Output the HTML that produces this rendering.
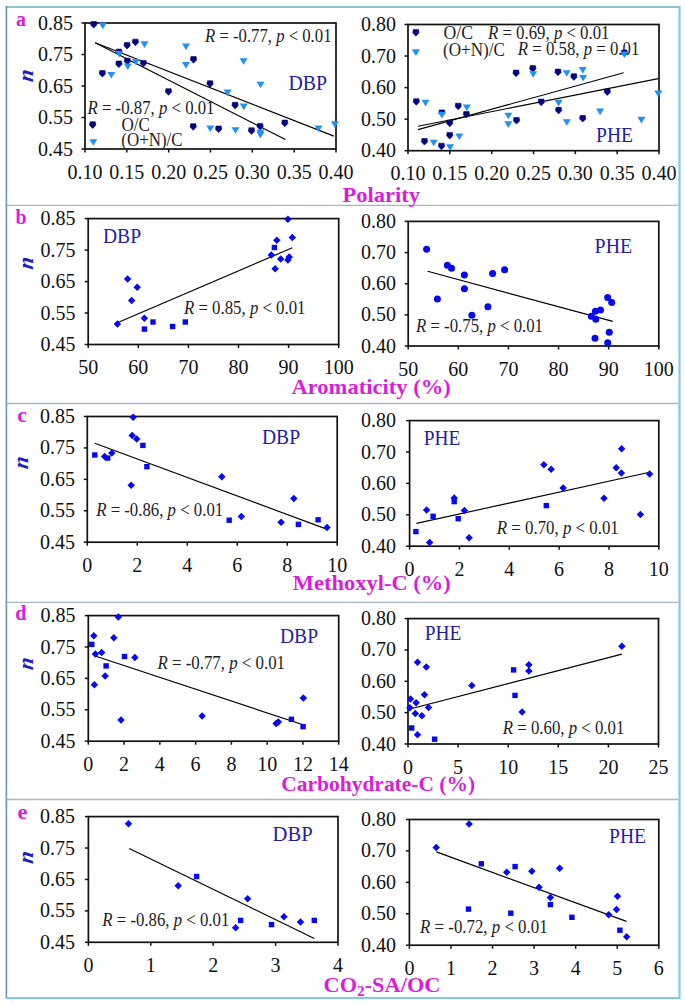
<!DOCTYPE html>
<html><head><meta charset="utf-8"><title>Figure</title>
<style>
html,body{margin:0;padding:0;background:#fff;}
body{width:685px;height:1004px;overflow:hidden;}
svg{display:block;}
text{font-family:"Liberation Serif",serif;}
.tk{font-size:20px;fill:#111;}
.an{font-size:18px;fill:#222;}
.lg{font-size:18px;fill:#222;}
.lb{font-size:20.5px;fill:#2020a8;}
.tt{font-size:22px;font-weight:bold;fill:#d81ed8;}
.rl{font-size:20px;font-weight:bold;fill:#d81ed8;}
.nl{font-size:22px;font-weight:bold;font-style:italic;fill:#1c1cc8;}
</style></head>
<body><svg width="685" height="1004" viewBox="0 0 685 1004">
<rect width="685" height="1004" fill="#fff"/>
<line x1="6" y1="7" x2="679" y2="7" stroke="#8fc3d3" stroke-width="2"/>
<line x1="6.4" y1="6" x2="6.4" y2="999" stroke="#6598a8" stroke-width="1.6"/>
<line x1="679.5" y1="6" x2="679.5" y2="999" stroke="#84c9e6" stroke-width="2.2"/>
<line x1="6" y1="998" x2="680" y2="998" stroke="#84c9e6" stroke-width="2.2"/>
<line x1="7" y1="205.3" x2="678.5" y2="205.3" stroke="#a9b6c6" stroke-width="1.3"/>
<line x1="7" y1="403.5" x2="678.5" y2="403.5" stroke="#a9b6c6" stroke-width="1.3"/>
<line x1="7" y1="602.3" x2="678.5" y2="602.3" stroke="#a9b6c6" stroke-width="1.3"/>
<line x1="7" y1="799.5" x2="678.5" y2="799.5" stroke="#a9b6c6" stroke-width="1.3"/>
<rect x="85" y="23" width="251" height="126" fill="none" stroke="#111" stroke-width="1.7"/>
<line x1="81.5" y1="23" x2="85" y2="23" stroke="#111" stroke-width="1.5"/>
<text x="73.1" y="29.5" class="tk" text-anchor="end">0.85</text>
<line x1="81.5" y1="54.5" x2="85" y2="54.5" stroke="#111" stroke-width="1.5"/>
<text x="73.1" y="61" class="tk" text-anchor="end">0.75</text>
<line x1="81.5" y1="86" x2="85" y2="86" stroke="#111" stroke-width="1.5"/>
<text x="73.1" y="92.5" class="tk" text-anchor="end">0.65</text>
<line x1="81.5" y1="117.5" x2="85" y2="117.5" stroke="#111" stroke-width="1.5"/>
<text x="73.1" y="124" class="tk" text-anchor="end">0.55</text>
<line x1="81.5" y1="149" x2="85" y2="149" stroke="#111" stroke-width="1.5"/>
<text x="73.1" y="155.5" class="tk" text-anchor="end">0.45</text>
<line x1="85" y1="149" x2="85" y2="152.5" stroke="#111" stroke-width="1.5"/>
<text x="85" y="178.5" class="tk" text-anchor="middle">0.10</text>
<line x1="126.83" y1="149" x2="126.83" y2="152.5" stroke="#111" stroke-width="1.5"/>
<text x="126.83" y="178.5" class="tk" text-anchor="middle">0.15</text>
<line x1="168.67" y1="149" x2="168.67" y2="152.5" stroke="#111" stroke-width="1.5"/>
<text x="168.67" y="178.5" class="tk" text-anchor="middle">0.20</text>
<line x1="210.5" y1="149" x2="210.5" y2="152.5" stroke="#111" stroke-width="1.5"/>
<text x="210.5" y="178.5" class="tk" text-anchor="middle">0.25</text>
<line x1="252.33" y1="149" x2="252.33" y2="152.5" stroke="#111" stroke-width="1.5"/>
<text x="252.33" y="178.5" class="tk" text-anchor="middle">0.30</text>
<line x1="294.17" y1="149" x2="294.17" y2="152.5" stroke="#111" stroke-width="1.5"/>
<text x="294.17" y="178.5" class="tk" text-anchor="middle">0.35</text>
<line x1="336" y1="149" x2="336" y2="152.5" stroke="#111" stroke-width="1.5"/>
<text x="336" y="178.5" class="tk" text-anchor="middle">0.40</text>
<rect x="408" y="24.5" width="251" height="126.2" fill="none" stroke="#111" stroke-width="1.7"/>
<line x1="404.5" y1="24.5" x2="408" y2="24.5" stroke="#111" stroke-width="1.5"/>
<text x="396.1" y="31" class="tk" text-anchor="end">0.80</text>
<line x1="404.5" y1="56.05" x2="408" y2="56.05" stroke="#111" stroke-width="1.5"/>
<text x="396.1" y="62.55" class="tk" text-anchor="end">0.70</text>
<line x1="404.5" y1="87.6" x2="408" y2="87.6" stroke="#111" stroke-width="1.5"/>
<text x="396.1" y="94.1" class="tk" text-anchor="end">0.60</text>
<line x1="404.5" y1="119.15" x2="408" y2="119.15" stroke="#111" stroke-width="1.5"/>
<text x="396.1" y="125.65" class="tk" text-anchor="end">0.50</text>
<line x1="404.5" y1="150.7" x2="408" y2="150.7" stroke="#111" stroke-width="1.5"/>
<text x="396.1" y="157.2" class="tk" text-anchor="end">0.40</text>
<line x1="408" y1="150.7" x2="408" y2="154.2" stroke="#111" stroke-width="1.5"/>
<text x="408" y="180.2" class="tk" text-anchor="middle">0.10</text>
<line x1="449.83" y1="150.7" x2="449.83" y2="154.2" stroke="#111" stroke-width="1.5"/>
<text x="449.83" y="180.2" class="tk" text-anchor="middle">0.15</text>
<line x1="491.67" y1="150.7" x2="491.67" y2="154.2" stroke="#111" stroke-width="1.5"/>
<text x="491.67" y="180.2" class="tk" text-anchor="middle">0.20</text>
<line x1="533.5" y1="150.7" x2="533.5" y2="154.2" stroke="#111" stroke-width="1.5"/>
<text x="533.5" y="180.2" class="tk" text-anchor="middle">0.25</text>
<line x1="575.33" y1="150.7" x2="575.33" y2="154.2" stroke="#111" stroke-width="1.5"/>
<text x="575.33" y="180.2" class="tk" text-anchor="middle">0.30</text>
<line x1="617.17" y1="150.7" x2="617.17" y2="154.2" stroke="#111" stroke-width="1.5"/>
<text x="617.17" y="180.2" class="tk" text-anchor="middle">0.35</text>
<line x1="659" y1="150.7" x2="659" y2="154.2" stroke="#111" stroke-width="1.5"/>
<text x="659" y="180.2" class="tk" text-anchor="middle">0.40</text>
<rect x="88.2" y="218.6" width="250.5" height="125.9" fill="none" stroke="#111" stroke-width="1.7"/>
<line x1="84.7" y1="218.6" x2="88.2" y2="218.6" stroke="#111" stroke-width="1.5"/>
<text x="75.6" y="225.1" class="tk" text-anchor="end">0.85</text>
<line x1="84.7" y1="250.07" x2="88.2" y2="250.07" stroke="#111" stroke-width="1.5"/>
<text x="75.6" y="256.57" class="tk" text-anchor="end">0.75</text>
<line x1="84.7" y1="281.55" x2="88.2" y2="281.55" stroke="#111" stroke-width="1.5"/>
<text x="75.6" y="288.05" class="tk" text-anchor="end">0.65</text>
<line x1="84.7" y1="313.02" x2="88.2" y2="313.02" stroke="#111" stroke-width="1.5"/>
<text x="75.6" y="319.52" class="tk" text-anchor="end">0.55</text>
<line x1="84.7" y1="344.5" x2="88.2" y2="344.5" stroke="#111" stroke-width="1.5"/>
<text x="75.6" y="351" class="tk" text-anchor="end">0.45</text>
<line x1="88.2" y1="344.5" x2="88.2" y2="348" stroke="#111" stroke-width="1.5"/>
<text x="88.2" y="374" class="tk" text-anchor="middle">50</text>
<line x1="138.3" y1="344.5" x2="138.3" y2="348" stroke="#111" stroke-width="1.5"/>
<text x="138.3" y="374" class="tk" text-anchor="middle">60</text>
<line x1="188.4" y1="344.5" x2="188.4" y2="348" stroke="#111" stroke-width="1.5"/>
<text x="188.4" y="374" class="tk" text-anchor="middle">70</text>
<line x1="238.5" y1="344.5" x2="238.5" y2="348" stroke="#111" stroke-width="1.5"/>
<text x="238.5" y="374" class="tk" text-anchor="middle">80</text>
<line x1="288.6" y1="344.5" x2="288.6" y2="348" stroke="#111" stroke-width="1.5"/>
<text x="288.6" y="374" class="tk" text-anchor="middle">90</text>
<line x1="338.7" y1="344.5" x2="338.7" y2="348" stroke="#111" stroke-width="1.5"/>
<text x="338.7" y="374" class="tk" text-anchor="middle">100</text>
<rect x="408.2" y="221.4" width="250.6" height="124.6" fill="none" stroke="#111" stroke-width="1.7"/>
<line x1="404.7" y1="221.4" x2="408.2" y2="221.4" stroke="#111" stroke-width="1.5"/>
<text x="396.1" y="227.9" class="tk" text-anchor="end">0.80</text>
<line x1="404.7" y1="252.55" x2="408.2" y2="252.55" stroke="#111" stroke-width="1.5"/>
<text x="396.1" y="259.05" class="tk" text-anchor="end">0.70</text>
<line x1="404.7" y1="283.7" x2="408.2" y2="283.7" stroke="#111" stroke-width="1.5"/>
<text x="396.1" y="290.2" class="tk" text-anchor="end">0.60</text>
<line x1="404.7" y1="314.85" x2="408.2" y2="314.85" stroke="#111" stroke-width="1.5"/>
<text x="396.1" y="321.35" class="tk" text-anchor="end">0.50</text>
<line x1="404.7" y1="346" x2="408.2" y2="346" stroke="#111" stroke-width="1.5"/>
<text x="396.1" y="352.5" class="tk" text-anchor="end">0.40</text>
<line x1="408.2" y1="346" x2="408.2" y2="349.5" stroke="#111" stroke-width="1.5"/>
<text x="408.2" y="375.5" class="tk" text-anchor="middle">50</text>
<line x1="458.32" y1="346" x2="458.32" y2="349.5" stroke="#111" stroke-width="1.5"/>
<text x="458.32" y="375.5" class="tk" text-anchor="middle">60</text>
<line x1="508.44" y1="346" x2="508.44" y2="349.5" stroke="#111" stroke-width="1.5"/>
<text x="508.44" y="375.5" class="tk" text-anchor="middle">70</text>
<line x1="558.56" y1="346" x2="558.56" y2="349.5" stroke="#111" stroke-width="1.5"/>
<text x="558.56" y="375.5" class="tk" text-anchor="middle">80</text>
<line x1="608.68" y1="346" x2="608.68" y2="349.5" stroke="#111" stroke-width="1.5"/>
<text x="608.68" y="375.5" class="tk" text-anchor="middle">90</text>
<line x1="658.8" y1="346" x2="658.8" y2="349.5" stroke="#111" stroke-width="1.5"/>
<text x="658.8" y="375.5" class="tk" text-anchor="middle">100</text>
<rect x="87.3" y="416.5" width="249.9" height="125.7" fill="none" stroke="#111" stroke-width="1.7"/>
<line x1="83.8" y1="416.5" x2="87.3" y2="416.5" stroke="#111" stroke-width="1.5"/>
<text x="75.1" y="423" class="tk" text-anchor="end">0.85</text>
<line x1="83.8" y1="447.93" x2="87.3" y2="447.93" stroke="#111" stroke-width="1.5"/>
<text x="75.1" y="454.43" class="tk" text-anchor="end">0.75</text>
<line x1="83.8" y1="479.35" x2="87.3" y2="479.35" stroke="#111" stroke-width="1.5"/>
<text x="75.1" y="485.85" class="tk" text-anchor="end">0.65</text>
<line x1="83.8" y1="510.78" x2="87.3" y2="510.78" stroke="#111" stroke-width="1.5"/>
<text x="75.1" y="517.28" class="tk" text-anchor="end">0.55</text>
<line x1="83.8" y1="542.2" x2="87.3" y2="542.2" stroke="#111" stroke-width="1.5"/>
<text x="75.1" y="548.7" class="tk" text-anchor="end">0.45</text>
<line x1="87.3" y1="542.2" x2="87.3" y2="545.7" stroke="#111" stroke-width="1.5"/>
<text x="87.3" y="571.7" class="tk" text-anchor="middle">0</text>
<line x1="137.28" y1="542.2" x2="137.28" y2="545.7" stroke="#111" stroke-width="1.5"/>
<text x="137.28" y="571.7" class="tk" text-anchor="middle">2</text>
<line x1="187.26" y1="542.2" x2="187.26" y2="545.7" stroke="#111" stroke-width="1.5"/>
<text x="187.26" y="571.7" class="tk" text-anchor="middle">4</text>
<line x1="237.24" y1="542.2" x2="237.24" y2="545.7" stroke="#111" stroke-width="1.5"/>
<text x="237.24" y="571.7" class="tk" text-anchor="middle">6</text>
<line x1="287.22" y1="542.2" x2="287.22" y2="545.7" stroke="#111" stroke-width="1.5"/>
<text x="287.22" y="571.7" class="tk" text-anchor="middle">8</text>
<line x1="337.2" y1="542.2" x2="337.2" y2="545.7" stroke="#111" stroke-width="1.5"/>
<text x="337.2" y="571.7" class="tk" text-anchor="middle">10</text>
<rect x="409.6" y="420.6" width="249.2" height="125.6" fill="none" stroke="#111" stroke-width="1.7"/>
<line x1="406.1" y1="420.6" x2="409.6" y2="420.6" stroke="#111" stroke-width="1.5"/>
<text x="396.1" y="427.1" class="tk" text-anchor="end">0.80</text>
<line x1="406.1" y1="452" x2="409.6" y2="452" stroke="#111" stroke-width="1.5"/>
<text x="396.1" y="458.5" class="tk" text-anchor="end">0.70</text>
<line x1="406.1" y1="483.4" x2="409.6" y2="483.4" stroke="#111" stroke-width="1.5"/>
<text x="396.1" y="489.9" class="tk" text-anchor="end">0.60</text>
<line x1="406.1" y1="514.8" x2="409.6" y2="514.8" stroke="#111" stroke-width="1.5"/>
<text x="396.1" y="521.3" class="tk" text-anchor="end">0.50</text>
<line x1="406.1" y1="546.2" x2="409.6" y2="546.2" stroke="#111" stroke-width="1.5"/>
<text x="396.1" y="552.7" class="tk" text-anchor="end">0.40</text>
<line x1="409.6" y1="546.2" x2="409.6" y2="549.7" stroke="#111" stroke-width="1.5"/>
<text x="409.6" y="575.7" class="tk" text-anchor="middle">0</text>
<line x1="459.44" y1="546.2" x2="459.44" y2="549.7" stroke="#111" stroke-width="1.5"/>
<text x="459.44" y="575.7" class="tk" text-anchor="middle">2</text>
<line x1="509.28" y1="546.2" x2="509.28" y2="549.7" stroke="#111" stroke-width="1.5"/>
<text x="509.28" y="575.7" class="tk" text-anchor="middle">4</text>
<line x1="559.12" y1="546.2" x2="559.12" y2="549.7" stroke="#111" stroke-width="1.5"/>
<text x="559.12" y="575.7" class="tk" text-anchor="middle">6</text>
<line x1="608.96" y1="546.2" x2="608.96" y2="549.7" stroke="#111" stroke-width="1.5"/>
<text x="608.96" y="575.7" class="tk" text-anchor="middle">8</text>
<line x1="658.8" y1="546.2" x2="658.8" y2="549.7" stroke="#111" stroke-width="1.5"/>
<text x="658.8" y="575.7" class="tk" text-anchor="middle">10</text>
<rect x="88.3" y="615.6" width="250.4" height="125.6" fill="none" stroke="#111" stroke-width="1.7"/>
<line x1="84.8" y1="615.6" x2="88.3" y2="615.6" stroke="#111" stroke-width="1.5"/>
<text x="75.6" y="622.1" class="tk" text-anchor="end">0.85</text>
<line x1="84.8" y1="647" x2="88.3" y2="647" stroke="#111" stroke-width="1.5"/>
<text x="75.6" y="653.5" class="tk" text-anchor="end">0.75</text>
<line x1="84.8" y1="678.4" x2="88.3" y2="678.4" stroke="#111" stroke-width="1.5"/>
<text x="75.6" y="684.9" class="tk" text-anchor="end">0.65</text>
<line x1="84.8" y1="709.8" x2="88.3" y2="709.8" stroke="#111" stroke-width="1.5"/>
<text x="75.6" y="716.3" class="tk" text-anchor="end">0.55</text>
<line x1="84.8" y1="741.2" x2="88.3" y2="741.2" stroke="#111" stroke-width="1.5"/>
<text x="75.6" y="747.7" class="tk" text-anchor="end">0.45</text>
<line x1="88.3" y1="741.2" x2="88.3" y2="744.7" stroke="#111" stroke-width="1.5"/>
<text x="88.3" y="770.7" class="tk" text-anchor="middle">0</text>
<line x1="124.07" y1="741.2" x2="124.07" y2="744.7" stroke="#111" stroke-width="1.5"/>
<text x="124.07" y="770.7" class="tk" text-anchor="middle">2</text>
<line x1="159.84" y1="741.2" x2="159.84" y2="744.7" stroke="#111" stroke-width="1.5"/>
<text x="159.84" y="770.7" class="tk" text-anchor="middle">4</text>
<line x1="195.61" y1="741.2" x2="195.61" y2="744.7" stroke="#111" stroke-width="1.5"/>
<text x="195.61" y="770.7" class="tk" text-anchor="middle">6</text>
<line x1="231.39" y1="741.2" x2="231.39" y2="744.7" stroke="#111" stroke-width="1.5"/>
<text x="231.39" y="770.7" class="tk" text-anchor="middle">8</text>
<line x1="267.16" y1="741.2" x2="267.16" y2="744.7" stroke="#111" stroke-width="1.5"/>
<text x="267.16" y="770.7" class="tk" text-anchor="middle">10</text>
<line x1="302.93" y1="741.2" x2="302.93" y2="744.7" stroke="#111" stroke-width="1.5"/>
<text x="302.93" y="770.7" class="tk" text-anchor="middle">12</text>
<line x1="338.7" y1="741.2" x2="338.7" y2="744.7" stroke="#111" stroke-width="1.5"/>
<text x="338.7" y="770.7" class="tk" text-anchor="middle">14</text>
<rect x="408" y="618.6" width="250.5" height="125.4" fill="none" stroke="#111" stroke-width="1.7"/>
<line x1="404.5" y1="618.6" x2="408" y2="618.6" stroke="#111" stroke-width="1.5"/>
<text x="396.1" y="625.1" class="tk" text-anchor="end">0.80</text>
<line x1="404.5" y1="649.95" x2="408" y2="649.95" stroke="#111" stroke-width="1.5"/>
<text x="396.1" y="656.45" class="tk" text-anchor="end">0.70</text>
<line x1="404.5" y1="681.3" x2="408" y2="681.3" stroke="#111" stroke-width="1.5"/>
<text x="396.1" y="687.8" class="tk" text-anchor="end">0.60</text>
<line x1="404.5" y1="712.65" x2="408" y2="712.65" stroke="#111" stroke-width="1.5"/>
<text x="396.1" y="719.15" class="tk" text-anchor="end">0.50</text>
<line x1="404.5" y1="744" x2="408" y2="744" stroke="#111" stroke-width="1.5"/>
<text x="396.1" y="750.5" class="tk" text-anchor="end">0.40</text>
<line x1="408" y1="744" x2="408" y2="747.5" stroke="#111" stroke-width="1.5"/>
<text x="408" y="773.5" class="tk" text-anchor="middle">0</text>
<line x1="458.1" y1="744" x2="458.1" y2="747.5" stroke="#111" stroke-width="1.5"/>
<text x="458.1" y="773.5" class="tk" text-anchor="middle">5</text>
<line x1="508.2" y1="744" x2="508.2" y2="747.5" stroke="#111" stroke-width="1.5"/>
<text x="508.2" y="773.5" class="tk" text-anchor="middle">10</text>
<line x1="558.3" y1="744" x2="558.3" y2="747.5" stroke="#111" stroke-width="1.5"/>
<text x="558.3" y="773.5" class="tk" text-anchor="middle">15</text>
<line x1="608.4" y1="744" x2="608.4" y2="747.5" stroke="#111" stroke-width="1.5"/>
<text x="608.4" y="773.5" class="tk" text-anchor="middle">20</text>
<line x1="658.5" y1="744" x2="658.5" y2="747.5" stroke="#111" stroke-width="1.5"/>
<text x="658.5" y="773.5" class="tk" text-anchor="middle">25</text>
<rect x="88.4" y="816.6" width="249.6" height="125.7" fill="none" stroke="#111" stroke-width="1.7"/>
<line x1="84.9" y1="816.6" x2="88.4" y2="816.6" stroke="#111" stroke-width="1.5"/>
<text x="75.1" y="823.1" class="tk" text-anchor="end">0.85</text>
<line x1="84.9" y1="848.02" x2="88.4" y2="848.02" stroke="#111" stroke-width="1.5"/>
<text x="75.1" y="854.52" class="tk" text-anchor="end">0.75</text>
<line x1="84.9" y1="879.45" x2="88.4" y2="879.45" stroke="#111" stroke-width="1.5"/>
<text x="75.1" y="885.95" class="tk" text-anchor="end">0.65</text>
<line x1="84.9" y1="910.88" x2="88.4" y2="910.88" stroke="#111" stroke-width="1.5"/>
<text x="75.1" y="917.38" class="tk" text-anchor="end">0.55</text>
<line x1="84.9" y1="942.3" x2="88.4" y2="942.3" stroke="#111" stroke-width="1.5"/>
<text x="75.1" y="948.8" class="tk" text-anchor="end">0.45</text>
<line x1="88.4" y1="942.3" x2="88.4" y2="945.8" stroke="#111" stroke-width="1.5"/>
<text x="88.4" y="971.8" class="tk" text-anchor="middle">0</text>
<line x1="150.8" y1="942.3" x2="150.8" y2="945.8" stroke="#111" stroke-width="1.5"/>
<text x="150.8" y="971.8" class="tk" text-anchor="middle">1</text>
<line x1="213.2" y1="942.3" x2="213.2" y2="945.8" stroke="#111" stroke-width="1.5"/>
<text x="213.2" y="971.8" class="tk" text-anchor="middle">2</text>
<line x1="275.6" y1="942.3" x2="275.6" y2="945.8" stroke="#111" stroke-width="1.5"/>
<text x="275.6" y="971.8" class="tk" text-anchor="middle">3</text>
<line x1="338" y1="942.3" x2="338" y2="945.8" stroke="#111" stroke-width="1.5"/>
<text x="338" y="971.8" class="tk" text-anchor="middle">4</text>
<rect x="409.4" y="819.5" width="249.4" height="125.7" fill="none" stroke="#111" stroke-width="1.7"/>
<line x1="405.9" y1="819.5" x2="409.4" y2="819.5" stroke="#111" stroke-width="1.5"/>
<text x="396.1" y="826" class="tk" text-anchor="end">0.80</text>
<line x1="405.9" y1="850.92" x2="409.4" y2="850.92" stroke="#111" stroke-width="1.5"/>
<text x="396.1" y="857.42" class="tk" text-anchor="end">0.70</text>
<line x1="405.9" y1="882.35" x2="409.4" y2="882.35" stroke="#111" stroke-width="1.5"/>
<text x="396.1" y="888.85" class="tk" text-anchor="end">0.60</text>
<line x1="405.9" y1="913.78" x2="409.4" y2="913.78" stroke="#111" stroke-width="1.5"/>
<text x="396.1" y="920.28" class="tk" text-anchor="end">0.50</text>
<line x1="405.9" y1="945.2" x2="409.4" y2="945.2" stroke="#111" stroke-width="1.5"/>
<text x="396.1" y="951.7" class="tk" text-anchor="end">0.40</text>
<line x1="409.4" y1="945.2" x2="409.4" y2="948.7" stroke="#111" stroke-width="1.5"/>
<text x="409.4" y="974.7" class="tk" text-anchor="middle">0</text>
<line x1="450.97" y1="945.2" x2="450.97" y2="948.7" stroke="#111" stroke-width="1.5"/>
<text x="450.97" y="974.7" class="tk" text-anchor="middle">1</text>
<line x1="492.53" y1="945.2" x2="492.53" y2="948.7" stroke="#111" stroke-width="1.5"/>
<text x="492.53" y="974.7" class="tk" text-anchor="middle">2</text>
<line x1="534.1" y1="945.2" x2="534.1" y2="948.7" stroke="#111" stroke-width="1.5"/>
<text x="534.1" y="974.7" class="tk" text-anchor="middle">3</text>
<line x1="575.67" y1="945.2" x2="575.67" y2="948.7" stroke="#111" stroke-width="1.5"/>
<text x="575.67" y="974.7" class="tk" text-anchor="middle">4</text>
<line x1="617.23" y1="945.2" x2="617.23" y2="948.7" stroke="#111" stroke-width="1.5"/>
<text x="617.23" y="974.7" class="tk" text-anchor="middle">5</text>
<line x1="658.8" y1="945.2" x2="658.8" y2="948.7" stroke="#111" stroke-width="1.5"/>
<text x="658.8" y="974.7" class="tk" text-anchor="middle">6</text>
<text x="205" y="41.6" class="an" textLength="126.5" lengthAdjust="spacingAndGlyphs"><tspan font-style="italic">R</tspan> = -0.77, <tspan font-style="italic">p</tspan> &lt; 0.01</text>
<text x="288.4" y="90.2" class="lb" textLength="38.5" lengthAdjust="spacingAndGlyphs">DBP</text>
<text x="87.5" y="113.6" class="an" textLength="127" lengthAdjust="spacingAndGlyphs"><tspan font-style="italic">R</tspan> = -0.87, <tspan font-style="italic">p</tspan> &lt; 0.01</text>
<text x="121.5" y="131" class="lg" textLength="28.5" lengthAdjust="spacingAndGlyphs">O/C</text>
<text x="121.3" y="146.3" class="lg" textLength="61.2" lengthAdjust="spacingAndGlyphs">(O+N)/C</text>
<text x="443.5" y="38.8" class="lg" textLength="29.5" lengthAdjust="spacingAndGlyphs">O/C</text>
<text x="443" y="56.3" class="lg" textLength="61.8" lengthAdjust="spacingAndGlyphs">(O+N)/C</text>
<text x="488" y="38.8" class="an" textLength="121.5" lengthAdjust="spacingAndGlyphs"><tspan font-style="italic">R</tspan> = 0.69, <tspan font-style="italic">p</tspan> &lt; 0.01</text>
<text x="517.8" y="55.4" class="an" textLength="121.5" lengthAdjust="spacingAndGlyphs"><tspan font-style="italic">R</tspan> = 0.58, <tspan font-style="italic">p</tspan> = 0.01</text>
<text x="596" y="141.6" class="lb" textLength="37" lengthAdjust="spacingAndGlyphs">PHE</text>
<text x="103" y="243.1" class="lb" textLength="38" lengthAdjust="spacingAndGlyphs">DBP</text>
<text x="184" y="313.5" class="an" textLength="121.5" lengthAdjust="spacingAndGlyphs"><tspan font-style="italic">R</tspan> = 0.85, <tspan font-style="italic">p</tspan> &lt; 0.01</text>
<text x="594.6" y="252.9" class="lb" textLength="37.5" lengthAdjust="spacingAndGlyphs">PHE</text>
<text x="416" y="332.2" class="an" textLength="127" lengthAdjust="spacingAndGlyphs"><tspan font-style="italic">R</tspan> = -0.75, <tspan font-style="italic">p</tspan> &lt; 0.01</text>
<text x="262" y="443.6" class="lb" textLength="38" lengthAdjust="spacingAndGlyphs">DBP</text>
<text x="96.2" y="515.5" class="an" textLength="127" lengthAdjust="spacingAndGlyphs"><tspan font-style="italic">R</tspan> = -0.86, <tspan font-style="italic">p</tspan> &lt; 0.01</text>
<text x="423.8" y="445.2" class="lb" textLength="36.5" lengthAdjust="spacingAndGlyphs">PHE</text>
<text x="496.8" y="533.6" class="an" textLength="122" lengthAdjust="spacingAndGlyphs"><tspan font-style="italic">R</tspan> = 0.70, <tspan font-style="italic">p</tspan> &lt; 0.01</text>
<text x="280" y="643.1" class="lb" textLength="38" lengthAdjust="spacingAndGlyphs">DBP</text>
<text x="157.5" y="669" class="an" textLength="127.5" lengthAdjust="spacingAndGlyphs"><tspan font-style="italic">R</tspan> = -0.77, <tspan font-style="italic">p</tspan> &lt; 0.01</text>
<text x="424.8" y="639.9" class="lb" textLength="36.5" lengthAdjust="spacingAndGlyphs">PHE</text>
<text x="502.8" y="733.5" class="an" textLength="121.5" lengthAdjust="spacingAndGlyphs"><tspan font-style="italic">R</tspan> = 0.60, <tspan font-style="italic">p</tspan> &lt; 0.01</text>
<text x="272.6" y="841.4" class="lb" textLength="40" lengthAdjust="spacingAndGlyphs">DBP</text>
<text x="102.3" y="925.6" class="an" textLength="127" lengthAdjust="spacingAndGlyphs"><tspan font-style="italic">R</tspan> = -0.86, <tspan font-style="italic">p</tspan> &lt; 0.01</text>
<text x="609" y="842.7" class="lb" textLength="37" lengthAdjust="spacingAndGlyphs">PHE</text>
<text x="420.1" y="932.6" class="an" textLength="127.5" lengthAdjust="spacingAndGlyphs"><tspan font-style="italic">R</tspan> = -0.72, <tspan font-style="italic">p</tspan> &lt; 0.01</text>
<text x="342.5" y="201.7" class="tt" textLength="77.5" lengthAdjust="spacingAndGlyphs">Polarity</text>
<text x="291.4" y="394" class="tt" textLength="159.5" lengthAdjust="spacingAndGlyphs">Aromaticity (%)</text>
<text x="292.8" y="589.6" class="tt" textLength="158" lengthAdjust="spacingAndGlyphs">Methoxyl-C (%)</text>
<text x="281.2" y="790.5" class="tt" textLength="194" lengthAdjust="spacingAndGlyphs">Carbohydrate-C (%)</text>
<text x="323.5" y="991.9" class="tt" textLength="117" lengthAdjust="spacingAndGlyphs">CO<tspan font-size="15" dy="4">2</tspan><tspan dy="-4">-SA/OC</tspan></text>
<text x="16" y="26.3" class="rl">a</text>
<text x="15.5" y="224" class="rl">b</text>
<text x="17.3" y="421.6" class="rl" textLength="9.8" lengthAdjust="spacingAndGlyphs">c</text>
<text x="15.3" y="620.3" class="rl">d</text>
<text x="17.6" y="818.6" class="rl" textLength="10" lengthAdjust="spacingAndGlyphs">e</text>
<text x="0" y="0" class="nl" text-anchor="middle" transform="translate(32.9 76.4) rotate(-90) skewX(-8)">n</text>
<text x="0" y="0" class="nl" text-anchor="middle" transform="translate(32.9 264) rotate(-90) skewX(-8)">n</text>
<text x="0" y="0" class="nl" text-anchor="middle" transform="translate(27.7 463.4) rotate(-90) skewX(-8)">n</text>
<text x="0" y="0" class="nl" text-anchor="middle" transform="translate(33.1 664.5) rotate(-90) skewX(-8)">n</text>
<text x="0" y="0" class="nl" text-anchor="middle" transform="translate(33.1 858.1) rotate(-90) skewX(-8)">n</text>
<line x1="95.2" y1="42.7" x2="333.9" y2="136.1" stroke="#000" stroke-width="1.15"/>
<line x1="95.2" y1="42.7" x2="285.4" y2="139.6" stroke="#000" stroke-width="1.15"/>
<line x1="418" y1="129.6" x2="623.6" y2="72.8" stroke="#000" stroke-width="1.15"/>
<line x1="418" y1="126.3" x2="658.3" y2="78.6" stroke="#000" stroke-width="1.15"/>
<line x1="117.4" y1="322.8" x2="292.3" y2="247.8" stroke="#000" stroke-width="1.15"/>
<line x1="427.6" y1="271.3" x2="612.8" y2="321.4" stroke="#000" stroke-width="1.15"/>
<line x1="94.8" y1="443.2" x2="326.6" y2="529.1" stroke="#000" stroke-width="1.15"/>
<line x1="416.4" y1="523.4" x2="649.6" y2="472.3" stroke="#000" stroke-width="1.15"/>
<line x1="94.4" y1="655.8" x2="303.1" y2="724.8" stroke="#000" stroke-width="1.15"/>
<line x1="410" y1="709" x2="621.9" y2="654.1" stroke="#000" stroke-width="1.15"/>
<line x1="129.2" y1="848.5" x2="314.3" y2="938.4" stroke="#000" stroke-width="1.15"/>
<line x1="436.4" y1="851.9" x2="626.5" y2="921.4" stroke="#000" stroke-width="1.15"/>
<path d="M91.1 21.5L96.3 21.5L96.8 24.9L93.7 28.1L90.6 24.9Z" fill="#000080" stroke="#000080" stroke-width="0.6" stroke-linejoin="round"/>
<path d="M124.5 42.4L129.7 42.4L130.2 45.8L127.1 49L124 45.8Z" fill="#000080" stroke="#000080" stroke-width="0.6" stroke-linejoin="round"/>
<path d="M132.8 39.2L138 39.2L138.5 42.6L135.4 45.8L132.3 42.6Z" fill="#000080" stroke="#000080" stroke-width="0.6" stroke-linejoin="round"/>
<path d="M116.3 49.1L121.5 49.1L122 52.5L118.9 55.7L115.8 52.5Z" fill="#000080" stroke="#000080" stroke-width="0.6" stroke-linejoin="round"/>
<path d="M116.3 61L121.5 61L122 64.4L118.9 67.6L115.8 64.4Z" fill="#000080" stroke="#000080" stroke-width="0.6" stroke-linejoin="round"/>
<path d="M124.8 58.2L130 58.2L130.5 61.6L127.4 64.8L124.3 61.6Z" fill="#000080" stroke="#000080" stroke-width="0.6" stroke-linejoin="round"/>
<path d="M140.8 60.4L146 60.4L146.5 63.8L143.4 67L140.3 63.8Z" fill="#000080" stroke="#000080" stroke-width="0.6" stroke-linejoin="round"/>
<path d="M99.8 70.5L105 70.5L105.5 73.9L102.4 77.1L99.3 73.9Z" fill="#000080" stroke="#000080" stroke-width="0.6" stroke-linejoin="round"/>
<path d="M165.9 88.7L171.1 88.7L171.6 92.1L168.5 95.3L165.4 92.1Z" fill="#000080" stroke="#000080" stroke-width="0.6" stroke-linejoin="round"/>
<path d="M190.9 56.6L196.1 56.6L196.6 60L193.5 63.2L190.4 60Z" fill="#000080" stroke="#000080" stroke-width="0.6" stroke-linejoin="round"/>
<path d="M207.4 80.8L212.6 80.8L213.1 84.2L210 87.4L206.9 84.2Z" fill="#000080" stroke="#000080" stroke-width="0.6" stroke-linejoin="round"/>
<path d="M232.5 102.3L237.7 102.3L238.2 105.7L235.1 108.9L232 105.7Z" fill="#000080" stroke="#000080" stroke-width="0.6" stroke-linejoin="round"/>
<path d="M282.2 120.1L287.4 120.1L287.9 123.5L284.8 126.7L281.7 123.5Z" fill="#000080" stroke="#000080" stroke-width="0.6" stroke-linejoin="round"/>
<path d="M190.6 123.7L195.8 123.7L196.3 127.1L193.2 130.3L190.1 127.1Z" fill="#000080" stroke="#000080" stroke-width="0.6" stroke-linejoin="round"/>
<path d="M216 126L221.2 126L221.7 129.4L218.6 132.6L215.5 129.4Z" fill="#000080" stroke="#000080" stroke-width="0.6" stroke-linejoin="round"/>
<path d="M248.9 127.8L254.1 127.8L254.6 131.2L251.5 134.4L248.4 131.2Z" fill="#000080" stroke="#000080" stroke-width="0.6" stroke-linejoin="round"/>
<path d="M257.5 123.4L262.7 123.4L263.2 126.8L260.1 130L257 126.8Z" fill="#000080" stroke="#000080" stroke-width="0.6" stroke-linejoin="round"/>
<path d="M98.8 22.6L106.8 22.6L102.8 29.2Z" fill="#2191f2"/>
<path d="M140.5 41.3L148.5 41.3L144.5 47.9Z" fill="#2191f2"/>
<path d="M115.2 51L123.2 51L119.2 57.6Z" fill="#2191f2"/>
<path d="M123.8 63.4L131.8 63.4L127.8 70Z" fill="#2191f2"/>
<path d="M132 59L140 59L136 65.6Z" fill="#2191f2"/>
<path d="M182 43.6L190 43.6L186 50.2Z" fill="#2191f2"/>
<path d="M182 62.1L190 62.1L186 68.7Z" fill="#2191f2"/>
<path d="M107.3 72L115.3 72L111.3 78.6Z" fill="#2191f2"/>
<path d="M239.6 58.2L247.6 58.2L243.6 64.8Z" fill="#2191f2"/>
<path d="M256.5 81.7L264.5 81.7L260.5 88.3Z" fill="#2191f2"/>
<path d="M223.6 89.6L231.6 89.6L227.6 96.2Z" fill="#2191f2"/>
<path d="M239.8 103.6L247.8 103.6L243.8 110.2Z" fill="#2191f2"/>
<path d="M206.3 125.4L214.3 125.4L210.3 132Z" fill="#2191f2"/>
<path d="M231.5 127.2L239.5 127.2L235.5 133.8Z" fill="#2191f2"/>
<path d="M256.4 129.4L264.4 129.4L260.4 136Z" fill="#2191f2"/>
<path d="M256.4 131.8L264.4 131.8L260.4 138.4Z" fill="#2191f2"/>
<path d="M314.5 125.4L322.5 125.4L318.5 132Z" fill="#2191f2"/>
<path d="M330.9 121.3L338.9 121.3L334.9 127.9Z" fill="#2191f2"/>
<path d="M90.1 121.8L95.3 121.8L95.8 125.2L92.7 128.4L89.6 125.2Z" fill="#000080" stroke="#000080" stroke-width="0.6" stroke-linejoin="round"/>
<path d="M89.3 139.2L97.3 139.2L93.3 145.8Z" fill="#2191f2"/>
<path d="M413.7 98.7L418.9 98.7L419.4 102.1L416.3 105.3L413.2 102.1Z" fill="#000080" stroke="#000080" stroke-width="0.6" stroke-linejoin="round"/>
<path d="M455.6 103.2L460.8 103.2L461.3 106.6L458.2 109.8L455.1 106.6Z" fill="#000080" stroke="#000080" stroke-width="0.6" stroke-linejoin="round"/>
<path d="M463.8 111.4L469 111.4L469.5 114.8L466.4 118L463.3 114.8Z" fill="#000080" stroke="#000080" stroke-width="0.6" stroke-linejoin="round"/>
<path d="M439.3 109.9L444.5 109.9L445 113.3L441.9 116.5L438.8 113.3Z" fill="#000080" stroke="#000080" stroke-width="0.6" stroke-linejoin="round"/>
<path d="M447.1 120.2L452.3 120.2L452.8 123.6L449.7 126.8L446.6 123.6Z" fill="#000080" stroke="#000080" stroke-width="0.6" stroke-linejoin="round"/>
<path d="M447.1 132.4L452.3 132.4L452.8 135.8L449.7 139L446.6 135.8Z" fill="#000080" stroke="#000080" stroke-width="0.6" stroke-linejoin="round"/>
<path d="M421.9 138.5L427.1 138.5L427.6 141.9L424.5 145.1L421.4 141.9Z" fill="#000080" stroke="#000080" stroke-width="0.6" stroke-linejoin="round"/>
<path d="M438.9 143.2L444.1 143.2L444.6 146.6L441.5 149.8L438.4 146.6Z" fill="#000080" stroke="#000080" stroke-width="0.6" stroke-linejoin="round"/>
<path d="M513.5 70.1L518.7 70.1L519.2 73.5L516.1 76.7L513 73.5Z" fill="#000080" stroke="#000080" stroke-width="0.6" stroke-linejoin="round"/>
<path d="M530.2 65.6L535.4 65.6L535.9 69L532.8 72.2L529.7 69Z" fill="#000080" stroke="#000080" stroke-width="0.6" stroke-linejoin="round"/>
<path d="M513.9 117.5L519.1 117.5L519.6 120.9L516.5 124.1L513.4 120.9Z" fill="#000080" stroke="#000080" stroke-width="0.6" stroke-linejoin="round"/>
<path d="M538.6 99.1L543.8 99.1L544.3 102.5L541.2 105.7L538.1 102.5Z" fill="#000080" stroke="#000080" stroke-width="0.6" stroke-linejoin="round"/>
<path d="M621.8 50.1L627 50.1L627.5 53.5L624.4 56.7L621.3 53.5Z" fill="#000080" stroke="#000080" stroke-width="0.6" stroke-linejoin="round"/>
<path d="M555.4 69.1L560.6 69.1L561.1 72.5L558 75.7L554.9 72.5Z" fill="#000080" stroke="#000080" stroke-width="0.6" stroke-linejoin="round"/>
<path d="M571.3 73.8L576.5 73.8L577 77.2L573.9 80.4L570.8 77.2Z" fill="#000080" stroke="#000080" stroke-width="0.6" stroke-linejoin="round"/>
<path d="M604.7 88.9L609.9 88.9L610.4 92.3L607.3 95.5L604.2 92.3Z" fill="#000080" stroke="#000080" stroke-width="0.6" stroke-linejoin="round"/>
<path d="M556 107.3L561.2 107.3L561.7 110.7L558.6 113.9L555.5 110.7Z" fill="#000080" stroke="#000080" stroke-width="0.6" stroke-linejoin="round"/>
<path d="M580.1 115.5L585.3 115.5L585.8 118.9L582.7 122.1L579.6 118.9Z" fill="#000080" stroke="#000080" stroke-width="0.6" stroke-linejoin="round"/>
<path d="M421.5 99.8L429.5 99.8L425.5 106.4Z" fill="#2191f2"/>
<path d="M462.8 104.5L470.8 104.5L466.8 111.1Z" fill="#2191f2"/>
<path d="M437.9 111.8L445.9 111.8L441.9 118.4Z" fill="#2191f2"/>
<path d="M455.3 133.5L463.3 133.5L459.3 140.1Z" fill="#2191f2"/>
<path d="M429.7 139.7L437.7 139.7L433.7 146.3Z" fill="#2191f2"/>
<path d="M446.1 144.2L454.1 144.2L450.1 150.8Z" fill="#2191f2"/>
<path d="M529.2 71.2L537.2 71.2L533.2 77.8Z" fill="#2191f2"/>
<path d="M504.3 112.7L512.3 112.7L508.3 119.3Z" fill="#2191f2"/>
<path d="M504.3 121.3L512.3 121.3L508.3 127.9Z" fill="#2191f2"/>
<path d="M620.4 51.5L628.4 51.5L624.4 58.1Z" fill="#2191f2"/>
<path d="M562.8 70.2L570.8 70.2L566.8 76.8Z" fill="#2191f2"/>
<path d="M578.7 67.1L586.7 67.1L582.7 73.7Z" fill="#2191f2"/>
<path d="M579.1 75L587.1 75L583.1 81.6Z" fill="#2191f2"/>
<path d="M654.3 90.6L662.3 90.6L658.3 97.2Z" fill="#2191f2"/>
<path d="M554.6 99.8L562.6 99.8L558.6 106.4Z" fill="#2191f2"/>
<path d="M596.1 108.6L604.1 108.6L600.1 115.2Z" fill="#2191f2"/>
<path d="M562.8 119.2L570.8 119.2L566.8 125.8Z" fill="#2191f2"/>
<path d="M637.4 116.8L645.4 116.8L641.4 123.4Z" fill="#2191f2"/>
<path d="M413.3 29.6L418.5 29.6L419 33L415.9 36.2L412.8 33Z" fill="#000080" stroke="#000080" stroke-width="0.6" stroke-linejoin="round"/>
<path d="M411.9 49.3L419.9 49.3L415.9 55.9Z" fill="#2191f2"/>
<path d="M117.4 320.25L121.15 324L117.4 327.75L113.65 324Z" fill="#0808f0"/>
<path d="M127.6 275.35L131.35 279.1L127.6 282.85L123.85 279.1Z" fill="#0808f0"/>
<path d="M137.2 283.55L140.95 287.3L137.2 291.05L133.45 287.3Z" fill="#0808f0"/>
<path d="M131.7 296.75L135.45 300.5L131.7 304.25L127.95 300.5Z" fill="#0808f0"/>
<path d="M144.4 314.55L148.15 318.3L144.4 322.05L140.65 318.3Z" fill="#0808f0"/>
<path d="M287.9 215.45L291.65 219.2L287.9 222.95L284.15 219.2Z" fill="#0808f0"/>
<path d="M292.3 233.65L296.05 237.4L292.3 241.15L288.55 237.4Z" fill="#0808f0"/>
<path d="M276.8 236.45L280.55 240.2L276.8 243.95L273.05 240.2Z" fill="#0808f0"/>
<path d="M271.3 251.25L275.05 255L271.3 258.75L267.55 255Z" fill="#0808f0"/>
<path d="M280.7 255.25L284.45 259L280.7 262.75L276.95 259Z" fill="#0808f0"/>
<path d="M289.2 253.15L292.95 256.9L289.2 260.65L285.45 256.9Z" fill="#0808f0"/>
<path d="M287.9 256.25L291.65 260L287.9 263.75L284.15 260Z" fill="#0808f0"/>
<path d="M275.1 265.05L278.85 268.8L275.1 272.55L271.35 268.8Z" fill="#0808f0"/>
<rect x="141.7" y="326.4" width="5.4" height="5.4" fill="#0808f0"/>
<rect x="150.3" y="319.3" width="5.4" height="5.4" fill="#0808f0"/>
<rect x="169.9" y="323.8" width="5.4" height="5.4" fill="#0808f0"/>
<rect x="182.6" y="319.3" width="5.4" height="5.4" fill="#0808f0"/>
<rect x="271.7" y="244.8" width="5.4" height="5.4" fill="#0808f0"/>
<circle cx="426.6" cy="249.2" r="3.5" fill="#0808f0"/>
<circle cx="447.4" cy="265.2" r="3.5" fill="#0808f0"/>
<circle cx="451.5" cy="268.2" r="3.5" fill="#0808f0"/>
<circle cx="464.4" cy="275" r="3.5" fill="#0808f0"/>
<circle cx="464.4" cy="288.7" r="3.5" fill="#0808f0"/>
<circle cx="437.4" cy="298.9" r="3.5" fill="#0808f0"/>
<circle cx="492.6" cy="273.4" r="3.5" fill="#0808f0"/>
<circle cx="504.6" cy="269.7" r="3.5" fill="#0808f0"/>
<circle cx="487.9" cy="306.7" r="3.5" fill="#0808f0"/>
<circle cx="471.9" cy="315.3" r="3.5" fill="#0808f0"/>
<circle cx="607.7" cy="297.5" r="3.5" fill="#0808f0"/>
<circle cx="611.7" cy="302.4" r="3.5" fill="#0808f0"/>
<circle cx="600.5" cy="310.1" r="3.5" fill="#0808f0"/>
<circle cx="595.4" cy="311.2" r="3.5" fill="#0808f0"/>
<circle cx="591.3" cy="316.3" r="3.5" fill="#0808f0"/>
<circle cx="595.8" cy="319.3" r="3.5" fill="#0808f0"/>
<circle cx="609.3" cy="332.2" r="3.5" fill="#0808f0"/>
<circle cx="595" cy="338.3" r="3.5" fill="#0808f0"/>
<circle cx="607.7" cy="342.8" r="3.5" fill="#0808f0"/>
<path d="M133.2 413.45L136.95 417.2L133.2 420.95L129.45 417.2Z" fill="#0808f0"/>
<path d="M132.2 431.85L135.95 435.6L132.2 439.35L128.45 435.6Z" fill="#0808f0"/>
<path d="M136.7 435.35L140.45 439.1L136.7 442.85L132.95 439.1Z" fill="#0808f0"/>
<path d="M104.6 452.85L108.35 456.6L104.6 460.35L100.85 456.6Z" fill="#0808f0"/>
<path d="M111.8 449.25L115.55 453L111.8 456.75L108.05 453Z" fill="#0808f0"/>
<path d="M131.2 481.55L134.95 485.3L131.2 489.05L127.45 485.3Z" fill="#0808f0"/>
<path d="M221.8 473.05L225.55 476.8L221.8 480.55L218.05 476.8Z" fill="#0808f0"/>
<path d="M293.8 494.85L297.55 498.6L293.8 502.35L290.05 498.6Z" fill="#0808f0"/>
<path d="M241.3 512.65L245.05 516.4L241.3 520.15L237.55 516.4Z" fill="#0808f0"/>
<path d="M281.1 518.55L284.85 522.3L281.1 526.05L277.35 522.3Z" fill="#0808f0"/>
<path d="M327 523.85L330.75 527.6L327 531.35L323.25 527.6Z" fill="#0808f0"/>
<rect x="140.2" y="442.7" width="5.4" height="5.4" fill="#0808f0"/>
<rect x="92.1" y="452.3" width="5.4" height="5.4" fill="#0808f0"/>
<rect x="105" y="455.4" width="5.4" height="5.4" fill="#0808f0"/>
<rect x="144.2" y="464" width="5.4" height="5.4" fill="#0808f0"/>
<rect x="226.5" y="517.5" width="5.4" height="5.4" fill="#0808f0"/>
<rect x="295.7" y="521.7" width="5.4" height="5.4" fill="#0808f0"/>
<rect x="315.4" y="517.1" width="5.4" height="5.4" fill="#0808f0"/>
<path d="M454.2 494.15L457.95 497.9L454.2 501.65L450.45 497.9Z" fill="#0808f0"/>
<path d="M426.6 506.35L430.35 510.1L426.6 513.85L422.85 510.1Z" fill="#0808f0"/>
<path d="M464.4 506.85L468.15 510.6L464.4 514.35L460.65 510.6Z" fill="#0808f0"/>
<path d="M429.6 538.65L433.35 542.4L429.6 546.15L425.85 542.4Z" fill="#0808f0"/>
<path d="M469.1 533.95L472.85 537.7L469.1 541.45L465.35 537.7Z" fill="#0808f0"/>
<path d="M621.6 445.05L625.35 448.8L621.6 452.55L617.85 448.8Z" fill="#0808f0"/>
<path d="M543.9 461.05L547.65 464.8L543.9 468.55L540.15 464.8Z" fill="#0808f0"/>
<path d="M551.1 465.55L554.85 469.3L551.1 473.05L547.35 469.3Z" fill="#0808f0"/>
<path d="M616.2 464.05L619.95 467.8L616.2 471.55L612.45 467.8Z" fill="#0808f0"/>
<path d="M621.4 469.15L625.15 472.9L621.4 476.65L617.65 472.9Z" fill="#0808f0"/>
<path d="M649.6 470.25L653.35 474L649.6 477.75L645.85 474Z" fill="#0808f0"/>
<path d="M563.1 484.35L566.85 488.1L563.1 491.85L559.35 488.1Z" fill="#0808f0"/>
<path d="M604 494.55L607.75 498.3L604 502.05L600.25 498.3Z" fill="#0808f0"/>
<path d="M640.4 510.85L644.15 514.6L640.4 518.35L636.65 514.6Z" fill="#0808f0"/>
<rect x="451.5" y="498.9" width="5.4" height="5.4" fill="#0808f0"/>
<rect x="430.4" y="513.6" width="5.4" height="5.4" fill="#0808f0"/>
<rect x="455.5" y="516" width="5.4" height="5.4" fill="#0808f0"/>
<rect x="413.2" y="528.9" width="5.4" height="5.4" fill="#0808f0"/>
<rect x="543.6" y="502.9" width="5.4" height="5.4" fill="#0808f0"/>
<path d="M118.3 613.15L122.05 616.9L118.3 620.65L114.55 616.9Z" fill="#0808f0"/>
<path d="M93.8 631.95L97.55 635.7L93.8 639.45L90.05 635.7Z" fill="#0808f0"/>
<path d="M113.8 633.95L117.55 637.7L113.8 641.45L110.05 637.7Z" fill="#0808f0"/>
<path d="M101.6 648.65L105.35 652.4L101.6 656.15L97.85 652.4Z" fill="#0808f0"/>
<path d="M95.4 650.25L99.15 654L95.4 657.75L91.65 654Z" fill="#0808f0"/>
<path d="M134.9 653.75L138.65 657.5L134.9 661.25L131.15 657.5Z" fill="#0808f0"/>
<path d="M105.2 672.35L108.95 676.1L105.2 679.85L101.45 676.1Z" fill="#0808f0"/>
<path d="M94.4 680.95L98.15 684.7L94.4 688.45L90.65 684.7Z" fill="#0808f0"/>
<path d="M121 716.15L124.75 719.9L121 723.65L117.25 719.9Z" fill="#0808f0"/>
<path d="M202.1 712.25L205.85 716L202.1 719.75L198.35 716Z" fill="#0808f0"/>
<path d="M303.3 694.35L307.05 698.1L303.3 701.85L299.55 698.1Z" fill="#0808f0"/>
<path d="M276.2 719.75L279.95 723.5L276.2 727.25L272.45 723.5Z" fill="#0808f0"/>
<path d="M278.3 718.15L282.05 721.9L278.3 725.65L274.55 721.9Z" fill="#0808f0"/>
<rect x="89.1" y="641.7" width="5.4" height="5.4" fill="#0808f0"/>
<rect x="121.8" y="653.8" width="5.4" height="5.4" fill="#0808f0"/>
<rect x="103.4" y="663.2" width="5.4" height="5.4" fill="#0808f0"/>
<rect x="288.7" y="716.6" width="5.4" height="5.4" fill="#0808f0"/>
<rect x="300.4" y="724" width="5.4" height="5.4" fill="#0808f0"/>
<path d="M417.5 658.55L421.25 662.3L417.5 666.05L413.75 662.3Z" fill="#0808f0"/>
<path d="M426.3 663.15L430.05 666.9L426.3 670.65L422.55 666.9Z" fill="#0808f0"/>
<path d="M471.8 681.85L475.55 685.6L471.8 689.35L468.05 685.6Z" fill="#0808f0"/>
<path d="M424.5 690.95L428.25 694.7L424.5 698.45L420.75 694.7Z" fill="#0808f0"/>
<path d="M410.5 695.35L414.25 699.1L410.5 702.85L406.75 699.1Z" fill="#0808f0"/>
<path d="M416.1 698.95L419.85 702.7L416.1 706.45L412.35 702.7Z" fill="#0808f0"/>
<path d="M409.9 704.05L413.65 707.8L409.9 711.55L406.15 707.8Z" fill="#0808f0"/>
<path d="M428.5 703.75L432.25 707.5L428.5 711.25L424.75 707.5Z" fill="#0808f0"/>
<path d="M415.3 709.85L419.05 713.6L415.3 717.35L411.55 713.6Z" fill="#0808f0"/>
<path d="M421.9 712.05L425.65 715.8L421.9 719.55L418.15 715.8Z" fill="#0808f0"/>
<path d="M417.5 731.05L421.25 734.8L417.5 738.55L413.75 734.8Z" fill="#0808f0"/>
<path d="M621.9 642.55L625.65 646.3L621.9 650.05L618.15 646.3Z" fill="#0808f0"/>
<path d="M528.9 660.95L532.65 664.7L528.9 668.45L525.15 664.7Z" fill="#0808f0"/>
<path d="M528.9 667.25L532.65 671L528.9 674.75L525.15 671Z" fill="#0808f0"/>
<path d="M522.1 708.15L525.85 711.9L522.1 715.65L518.35 711.9Z" fill="#0808f0"/>
<rect x="409" y="725.3" width="5.4" height="5.4" fill="#0808f0"/>
<rect x="431.9" y="736.5" width="5.4" height="5.4" fill="#0808f0"/>
<rect x="510.9" y="667.2" width="5.4" height="5.4" fill="#0808f0"/>
<rect x="512.3" y="692.7" width="5.4" height="5.4" fill="#0808f0"/>
<path d="M128.5 820.05L132.25 823.8L128.5 827.55L124.75 823.8Z" fill="#0808f0"/>
<path d="M178.2 881.95L181.95 885.7L178.2 889.45L174.45 885.7Z" fill="#0808f0"/>
<path d="M247.6 895.05L251.35 898.8L247.6 902.55L243.85 898.8Z" fill="#0808f0"/>
<path d="M235.6 924.05L239.35 927.8L235.6 931.55L231.85 927.8Z" fill="#0808f0"/>
<path d="M284 913.05L287.75 916.8L284 920.55L280.25 916.8Z" fill="#0808f0"/>
<path d="M300.5 918.15L304.25 921.9L300.5 925.65L296.75 921.9Z" fill="#0808f0"/>
<rect x="193.9" y="873.8" width="5.4" height="5.4" fill="#0808f0"/>
<rect x="237.9" y="917.7" width="5.4" height="5.4" fill="#0808f0"/>
<rect x="268.8" y="921.9" width="5.4" height="5.4" fill="#0808f0"/>
<rect x="311.6" y="917.7" width="5.4" height="5.4" fill="#0808f0"/>
<path d="M469.1 820.15L472.85 823.9L469.1 827.65L465.35 823.9Z" fill="#0808f0"/>
<path d="M436.2 843.65L439.95 847.4L436.2 851.15L432.45 847.4Z" fill="#0808f0"/>
<path d="M506.7 868.55L510.45 872.3L506.7 876.05L502.95 872.3Z" fill="#0808f0"/>
<path d="M531.8 867.55L535.55 871.3L531.8 875.05L528.05 871.3Z" fill="#0808f0"/>
<path d="M539 883.55L542.75 887.3L539 891.05L535.25 887.3Z" fill="#0808f0"/>
<path d="M559.6 864.45L563.35 868.2L559.6 871.95L555.85 868.2Z" fill="#0808f0"/>
<path d="M550.4 893.75L554.15 897.5L550.4 901.25L546.65 897.5Z" fill="#0808f0"/>
<path d="M617.5 892.45L621.25 896.2L617.5 899.95L613.75 896.2Z" fill="#0808f0"/>
<path d="M616.5 905.75L620.25 909.5L616.5 913.25L612.75 909.5Z" fill="#0808f0"/>
<path d="M608.7 911.05L612.45 914.8L608.7 918.55L604.95 914.8Z" fill="#0808f0"/>
<path d="M626.7 932.95L630.45 936.7L626.7 940.45L622.95 936.7Z" fill="#0808f0"/>
<rect x="478.6" y="861.1" width="5.4" height="5.4" fill="#0808f0"/>
<rect x="512.4" y="863.9" width="5.4" height="5.4" fill="#0808f0"/>
<rect x="465.8" y="906.4" width="5.4" height="5.4" fill="#0808f0"/>
<rect x="508.1" y="910.5" width="5.4" height="5.4" fill="#0808f0"/>
<rect x="547.7" y="901.9" width="5.4" height="5.4" fill="#0808f0"/>
<rect x="569.2" y="914.6" width="5.4" height="5.4" fill="#0808f0"/>
<rect x="617.2" y="927.5" width="5.4" height="5.4" fill="#0808f0"/>
</svg></body></html>
